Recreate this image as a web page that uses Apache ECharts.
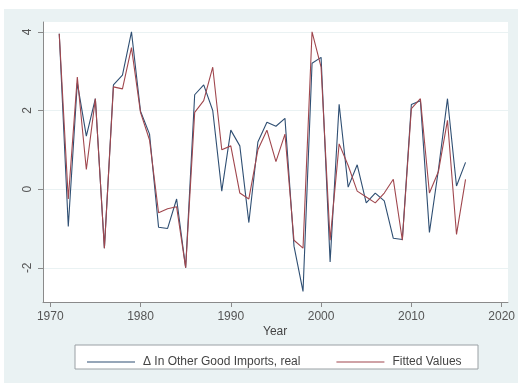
<!DOCTYPE html>
<html>
<head>
<meta charset="utf-8">
<script src="https://cdn.jsdelivr.net/npm/echarts@6.0.0/dist/echarts.min.js"></script>
<style>html,body{margin:0;padding:0;background:#fff;}#c{width:518px;height:383px;}</style>
</head>
<body>
<div id="c"></div>
<script>
const years = [1971,1972,1973,1974,1975,1976,1977,1978,1979,1980,1981,1982,1983,1984,1985,1986,1987,1988,1989,1990,1991,1992,1993,1994,1995,1996,1997,1998,1999,2000,2001,2002,2003,2004,2005,2006,2007,2008,2009,2010,2011,2012,2013,2014,2015,2016];
const actual = [3.95,-0.95,2.7,1.35,2.3,-1.5,2.65,2.9,4.0,1.98,1.4,-0.97,-1.0,-0.25,-2.0,2.4,2.65,2.0,-0.05,1.5,1.1,-0.85,1.2,1.7,1.6,1.8,-1.45,-2.6,3.2,3.35,-1.85,2.16,0.05,0.62,-0.35,-0.1,-0.3,-1.25,-1.28,2.15,2.25,-1.1,0.5,2.3,0.08,0.68];
const fitted = [3.95,-0.25,2.85,0.5,2.3,-1.5,2.6,2.55,3.6,1.95,1.25,-0.6,-0.5,-0.45,-2.0,1.95,2.25,3.1,1.0,1.1,-0.1,-0.25,1.0,1.5,0.7,1.4,-1.3,-1.5,4.0,3.1,-1.3,1.15,0.6,-0.05,-0.2,-0.35,-0.1,0.25,-1.3,2.05,2.3,-0.1,0.45,1.75,-1.15,0.25];
const xTicks = [1970,1980,1990,2000,2010,2020];
const yTicks = [-2,0,2,4];
const seriesNames = ['\u0394 In Other Good Imports, real','Fitted Values'];

const chart = echarts.init(document.getElementById('c'), null, {renderer:'canvas'});
const font = 'Liberation Sans, Arial, sans-serif';
const blue = '#2f4f73', red = '#a0474e';
chart.setOption({
  animation:false,
  backgroundColor:'#ffffff',
  graphic:[
    {type:'rect', z:-10, shape:{x:4,y:9,width:514,height:374}, style:{fill:'#eaf2f3'}},
    {type:'rect', z:-5, shape:{x:75,y:345,width:403,height:24}, style:{fill:'#ffffff',stroke:'#9aa0a4',lineWidth:1}},
    {type:'text', left:263, top:326, style:{text:'Year', font:'12px '+font, fill:'#444'}}
  ],
  grid:{left:43, top:22, right:10, bottom:81, show:true, backgroundColor:'#ffffff', borderWidth:0, containLabel:false},
  legend:{
    left:82, top:351, icon:'rect', itemWidth:48, itemHeight:1.2, itemGap:36,
    textStyle:{fontFamily:font, fontSize:12, color:'#444', padding:[0,0,0,3]},
    data:[
      {name:seriesNames[0], itemStyle:{color:blue}},
      {name:seriesNames[1], itemStyle:{color:red}}
    ]
  },
  xAxis:{
    type:'value', min:1969.2, max:2020.7,
    axisLine:{show:true, onZero:false, lineStyle:{color:'#8a8a8a', width:1}},
    axisTick:{show:true, length:5, customValues:xTicks, lineStyle:{color:'#8a8a8a'}},
    axisLabel:{customValues:xTicks, formatter:v=>String(v), margin:9, fontFamily:font, fontSize:12, color:'#555'},
    splitLine:{show:false}
  },
  yAxis:{
    type:'value', min:-2.87, max:4.25,
    axisLine:{show:true, onZero:false, lineStyle:{color:'#8a8a8a', width:1}},
    axisTick:{show:true, length:5, customValues:yTicks, lineStyle:{color:'#8a8a8a'}},
    axisLabel:{customValues:yTicks, rotate:90, margin:9, fontFamily:font, fontSize:12, color:'#555'},
    splitLine:{show:true, lineStyle:{color:'#eaf2f3', width:1}}
  },
  series:[
    {name:seriesNames[0], type:'line', symbol:'none', data:years.map((y,i)=>[y,actual[i]]), lineStyle:{color:blue, width:1.1}, itemStyle:{color:blue}, z:2},
    {name:seriesNames[1], type:'line', symbol:'none', data:years.map((y,i)=>[y,fitted[i]]), lineStyle:{color:red, width:1.1}, itemStyle:{color:red}, z:3}
  ]
});
</script>
</body>
</html>
